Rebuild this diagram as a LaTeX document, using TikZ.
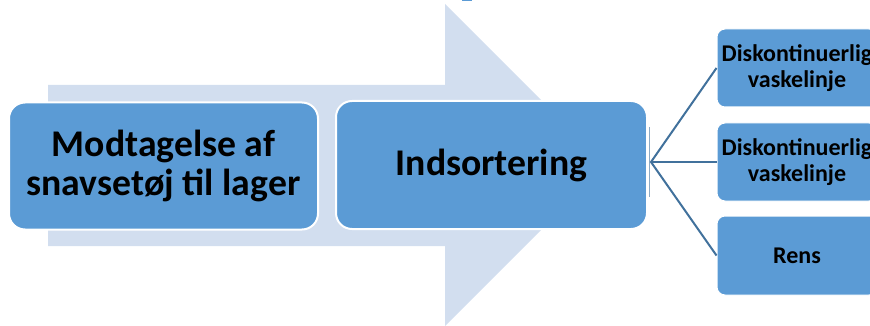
\documentclass[tikz,border=0pt]{standalone}
\usepackage{fontspec}
\setmainfont{Carlito}
\definecolor{boxblue}{HTML}{5B9BD5}
\definecolor{flowbg}{HTML}{D2DEEF}
\definecolor{linkblue}{HTML}{41719C}
\begin{document}
\begin{tikzpicture}[x=1pt,y=-1pt,
  mainbox/.style={draw=white,line width=2pt,fill=boxblue,rounded corners=16pt,
    align=center,inner sep=0pt,font=\bfseries\fontsize{37.7}{39}\selectfont},
  subbox/.style={draw=white,line width=1pt,fill=boxblue,rounded corners=8pt,
    align=center,inner sep=0pt,minimum width=160pt,minimum height=78pt,
    font=\bfseries\fontsize{24}{26}\selectfont},
  link/.style={draw=linkblue,line width=2pt}]
\useasboundingbox (0,0) rectangle (870,326);
\clip (0,0) rectangle (870,326);
% broad background arrow
\fill[flowbg] (48,85) -- (445,85) -- (445,4) -- (606,165) -- (445,326)
  -- (445,246) -- (48,246) -- cycle;
\fill[boxblue] (462,0) rectangle (472,1.5);
% process steps
\node[mainbox,minimum width=309pt,minimum height=127pt] (recv) at (163.5,166)
  {Modtagelse af\\snavsetøj til lager};
\node[mainbox,minimum width=311pt,minimum height=128pt] (sort) at (491.5,165)
  {Indsortering};
% sub steps
\node[subbox] (subA) at (797,68) {Diskontinuerlig\\vaskelinje};
\node[subbox] (subB) at (797,162) {Diskontinuerlig\\vaskelinje};
\node[subbox,minimum height=79pt] (subC) at (797,255.5) {Rens};
% fan of connectors
\coordinate (fan) at (651,162);
\draw[draw=linkblue!60,line width=0.8pt] (649,127) -- (649,197);
\draw[link] (subA.west) -- (fan) -- (subC.west);
\draw[link] (fan) -- (subB.west);
\end{tikzpicture}
\end{document}
